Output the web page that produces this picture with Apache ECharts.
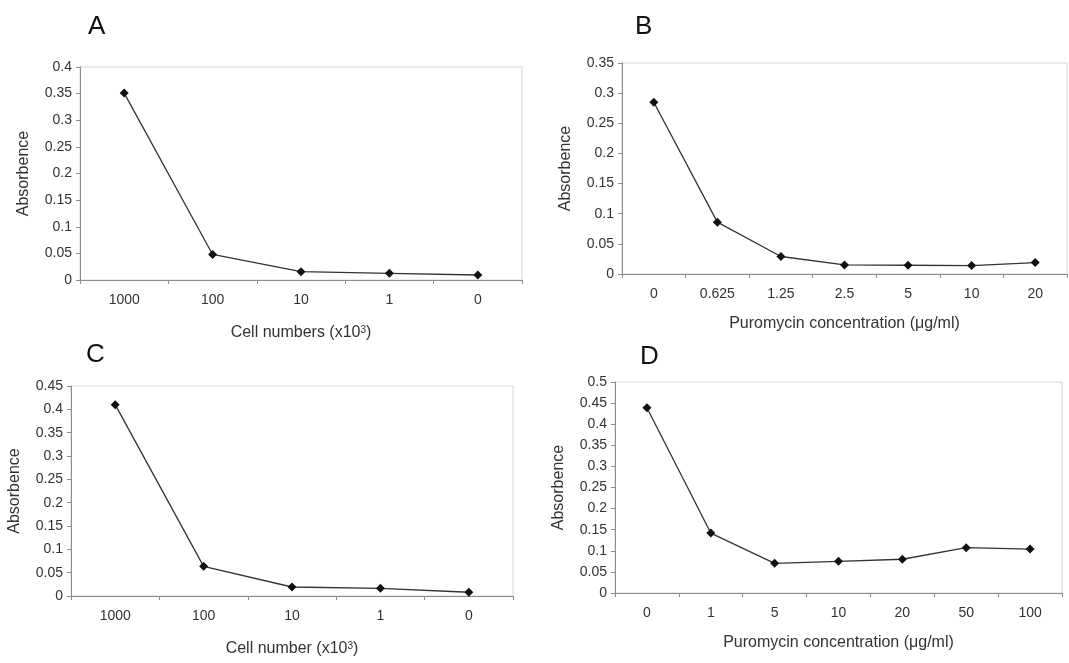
<!DOCTYPE html>
<html>
<head>
<meta charset="utf-8">
<script src="https://cdn.jsdelivr.net/npm/echarts@6/dist/echarts.min.js"></script>
<style type="text/css">
body{margin:0; background:#fff}
#chart{width:1069px; height:663px}
</style>
</head>
<body>
<div id="chart"></div>
<script type="text/javascript">
// panel A / C : cell numbers (x10^3)
var cellCats = ['1000', '100', '10', '1', '0'];
var valuesA = [0.351, 0.048, 0.0156, 0.0125, 0.0094];
var valuesC = [0.41, 0.0636, 0.0193, 0.0165, 0.008];
// panel B / D : puromycin concentration
var puroCatsB = ['0', '0.625', '1.25', '2.5', '5', '10', '20'];
var valuesB = [0.285, 0.086, 0.029, 0.015, 0.0145, 0.014, 0.019];
var puroCatsD = ['0', '1', '5', '10', '20', '50', '100'];
var valuesD = [0.439, 0.142, 0.0704, 0.075, 0.08, 0.1075, 0.104];
var yMax = [0.4, 0.35, 0.45, 0.5];

var font = 'Liberation Sans, Arial, sans-serif';
var tickColor = '#333';

var grids = [
    {left: 80, top: 67, width: 442, height: 213},
    {left: 622, top: 63, width: 445, height: 211},
    {left: 71, top: 386, width: 442, height: 210},
    {left: 615, top: 382, width: 447, height: 211}
];
grids.forEach(function(g){
    g.show = true;
    g.borderColor = '#d6d6d6';
    g.borderWidth = 1;
    g.backgroundColor = 'transparent';
});

var supRich = {
    sup: {fontSize: 10, verticalAlign: 'top', fontFamily: font, color: tickColor}
};

function xAxis(idx, cats, name, gap){
    return {
        type: 'category', gridIndex: idx, data: cats,
        boundaryGap: true,
        name: name, nameLocation: 'middle', nameGap: gap,
        nameTextStyle: {fontFamily: font, fontSize: 16, color: tickColor, rich: supRich},
        axisLine: {lineStyle: {color: '#8c8c8c', width: 1}},
        axisTick: {show: true, length: 4, alignWithLabel: false, lineStyle: {color: '#8c8c8c'}},
        axisLabel: {fontFamily: font, fontSize: 14, color: tickColor, margin: 13}
    };
}
function yAxis(idx, max){
    return {
        type: 'value', gridIndex: idx, min: 0, max: max, interval: 0.05,
        name: 'Absorbence', nameLocation: 'middle', nameGap: 48,
        nameTextStyle: {fontFamily: font, fontSize: 16, color: tickColor},
        axisLine: {show: true, lineStyle: {color: '#8c8c8c', width: 1}},
        axisTick: {show: true, length: 4, lineStyle: {color: '#8c8c8c'}},
        splitLine: {show: false},
        axisLabel: {fontFamily: font, fontSize: 14, color: tickColor, margin: 8}
    };
}
function series(idx, data){
    return {
        type: 'line', xAxisIndex: idx, yAxisIndex: idx, data: data,
        symbol: 'diamond', symbolSize: 9,
        lineStyle: {color: '#333', width: 1.3},
        itemStyle: {color: '#111'},
        animation: false
    };
}

var cellName = 'Cell numbers (x10{sup|3})';
var cellNameC = 'Cell number (x10{sup|3})';
var puroName = 'Puromycin concentration (μg/ml)';

var option = {
    backgroundColor: '#fff',
    animation: false,
    title: [
        {text: 'A', left: 83, top: 9},
        {text: 'B', left: 630, top: 9},
        {text: 'C', left: 81, top: 337},
        {text: 'D', left: 635, top: 339}
    ].map(function(t){
        t.textStyle = {fontFamily: font, fontSize: 26, fontWeight: 'normal', color: '#111'};
        return t;
    }),
    grid: grids,
    xAxis: [
        xAxis(0, cellCats, cellName, 45),
        xAxis(1, puroCatsB, puroName, 42),
        xAxis(2, cellCats, cellNameC, 45),
        xAxis(3, puroCatsD, puroName, 42)
    ],
    yAxis: [yAxis(0, yMax[0]), yAxis(1, yMax[1]), yAxis(2, yMax[2]), yAxis(3, yMax[3])],
    series: [series(0, valuesA), series(1, valuesB), series(2, valuesC), series(3, valuesD)]
};

var chart = echarts.init(document.getElementById('chart'), null, {renderer: 'canvas'});
chart.setOption(option, true);
</script>
</body>
</html>
